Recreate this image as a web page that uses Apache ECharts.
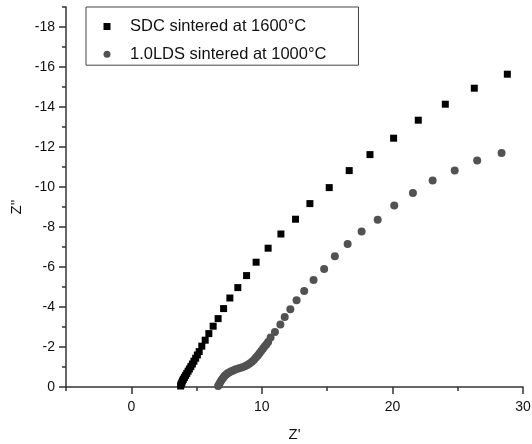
<!DOCTYPE html>
<html>
<head>
<meta charset="utf-8">
<script src="https://cdn.jsdelivr.net/npm/echarts@6/dist/echarts.min.js"></script>
<style>
html,body{margin:0;padding:0;background:#fff;}
#c{width:532px;height:444px;}
</style>
</head>
<body>
<div id="c"></div>
<script>
// SDC sintered at 1600°C  (Z' , Z'')
var sdcX = [3.78,3.81,3.86,3.92,3.99,4.07,4.16,4.25,4.35,4.45,4.56,4.68,4.80,4.93,5.06,5.20,5.40,5.66,5.94,6.27,6.65,7.07,7.55,8.16,8.83,9.56,10.48,11.46,12.58,13.68,15.16,16.69,18.28,20.09,21.98,24.05,26.27,28.80];
var sdcY = [-0.05,-0.13,-0.21,-0.30,-0.39,-0.48,-0.58,-0.68,-0.79,-0.90,-1.02,-1.15,-1.29,-1.44,-1.60,-1.77,-2.04,-2.34,-2.67,-3.04,-3.42,-3.92,-4.45,-4.97,-5.57,-6.24,-6.94,-7.65,-8.39,-9.17,-9.97,-10.82,-11.62,-12.44,-13.34,-14.14,-14.94,-15.64];
// 1.0LDS sintered at 1000°C
var ldsX = [6.65,6.72,6.80,6.88,6.97,7.06,7.16,7.27,7.39,7.52,7.66,7.81,7.97,8.14,8.32,8.51,8.70,8.89,9.07,9.24,9.40,9.55,9.69,9.82,9.95,10.08,10.21,10.34,10.48,10.67,11.00,11.42,11.75,12.18,12.66,13.24,13.96,14.77,15.59,16.57,17.64,18.87,20.14,21.57,23.08,24.77,26.49,28.36];
var ldsY = [-0.05,-0.13,-0.22,-0.31,-0.40,-0.48,-0.56,-0.63,-0.69,-0.74,-0.79,-0.83,-0.87,-0.91,-0.95,-0.99,-1.04,-1.10,-1.17,-1.26,-1.36,-1.47,-1.58,-1.69,-1.80,-1.91,-2.02,-2.13,-2.25,-2.47,-2.75,-3.13,-3.50,-3.89,-4.34,-4.80,-5.35,-5.90,-6.54,-7.15,-7.77,-8.36,-9.07,-9.70,-10.32,-10.83,-11.33,-11.70];
var seriesNames = ['SDC sintered at 1600\u00B0C', '1.0LDS sintered at 1000\u00B0C'];
var xLabels = [0, 10, 20, 30];
var yLabels = [-18, -16, -14, -12, -10, -8, -6, -4, -2, 0];
var xName = "Z'";
var yName = "Z''";

function pairs(xs, ys){ return xs.map(function(v,i){ return [v, ys[i]]; }); }

var FONT = "'Liberation Sans', Arial, sans-serif";
var AX = '#333';

var chart = echarts.init(document.getElementById('c'), null, {renderer:'canvas'});
chart.setOption({
  animation: false,
  backgroundColor: '#fff',
  textStyle: {fontFamily: FONT},
  grid: {left: 66, right: 9, top: 7, bottom: 57, containLabel: false, outerBoundsMode: 'none'},
  legend: {
    left: 86, top: 7,
    orient: 'vertical',
    data: [{name: seriesNames[0], icon: 'rect'}, {name: seriesNames[1], icon: 'circle'}],
    itemWidth: 7, itemHeight: 7,
    itemGap: 10.7,
    padding: [11, 32, 2.5, 17.5],
    borderColor: '#444', borderWidth: 1,
    textStyle: {fontSize: 16.5, color: '#111', fontFamily: FONT, padding: [0, 0, 0, 14.5]}
  },
  xAxis: [
    {type: 'value', min: -5, max: 30, interval: 5, position: 'bottom',
     axisLine: {show: true, onZero: false, lineStyle: {color: AX, width: 1.5}},
     axisTick: {show: true, length: 4, lineStyle: {color: AX, width: 1.5}},
     axisLabel: {customValues: xLabels, fontSize: 14, color: '#111', margin: 13, fontFamily: FONT},
     splitLine: {show: false},
     name: xName, nameLocation: 'middle', nameGap: 40,
     nameTextStyle: {fontSize: 15, color: '#111', fontFamily: FONT}},
    {type: 'value', min: -5, max: 30, position: 'bottom',
     axisLine: {show: false, onZero: false},
     axisTick: {show: true, customValues: xLabels, length: 7, lineStyle: {color: AX, width: 1.5}},
     axisLabel: {show: false}, splitLine: {show: false}}
  ],
  yAxis: [
    {type: 'value', min: -19, max: 0, interval: 1, inverse: true, position: 'left',
     axisLine: {show: true, onZero: false, lineStyle: {color: AX, width: 1.5}},
     axisTick: {show: true, length: 4, lineStyle: {color: AX, width: 1.5}},
     axisLabel: {customValues: yLabels, fontSize: 14, color: '#111', margin: 11, fontFamily: FONT},
     splitLine: {show: false},
     name: yName, nameLocation: 'middle', nameRotate: 90, nameGap: 42,
     nameTextStyle: {fontSize: 15, color: '#111', fontFamily: FONT, padding: [0, 20, 0, 0]}},
    {type: 'value', min: -19, max: 0, inverse: true, position: 'left',
     axisLine: {show: false, onZero: false},
     axisTick: {show: true, customValues: yLabels, length: 7, lineStyle: {color: AX, width: 1.5}},
     axisLabel: {show: false}, splitLine: {show: false}}
  ],
  series: [
    {name: seriesNames[0], type: 'scatter', xAxisIndex: 0, yAxisIndex: 0,
     symbol: 'rect', symbolSize: 7, itemStyle: {color: '#000', opacity: 1},
     data: pairs(sdcX, sdcY)},
    {name: seriesNames[1], type: 'scatter', xAxisIndex: 0, yAxisIndex: 0,
     symbol: 'circle', symbolSize: 8, itemStyle: {color: '#525252', opacity: 1},
     data: pairs(ldsX, ldsY)}
  ]
});
</script>
</body>
</html>
